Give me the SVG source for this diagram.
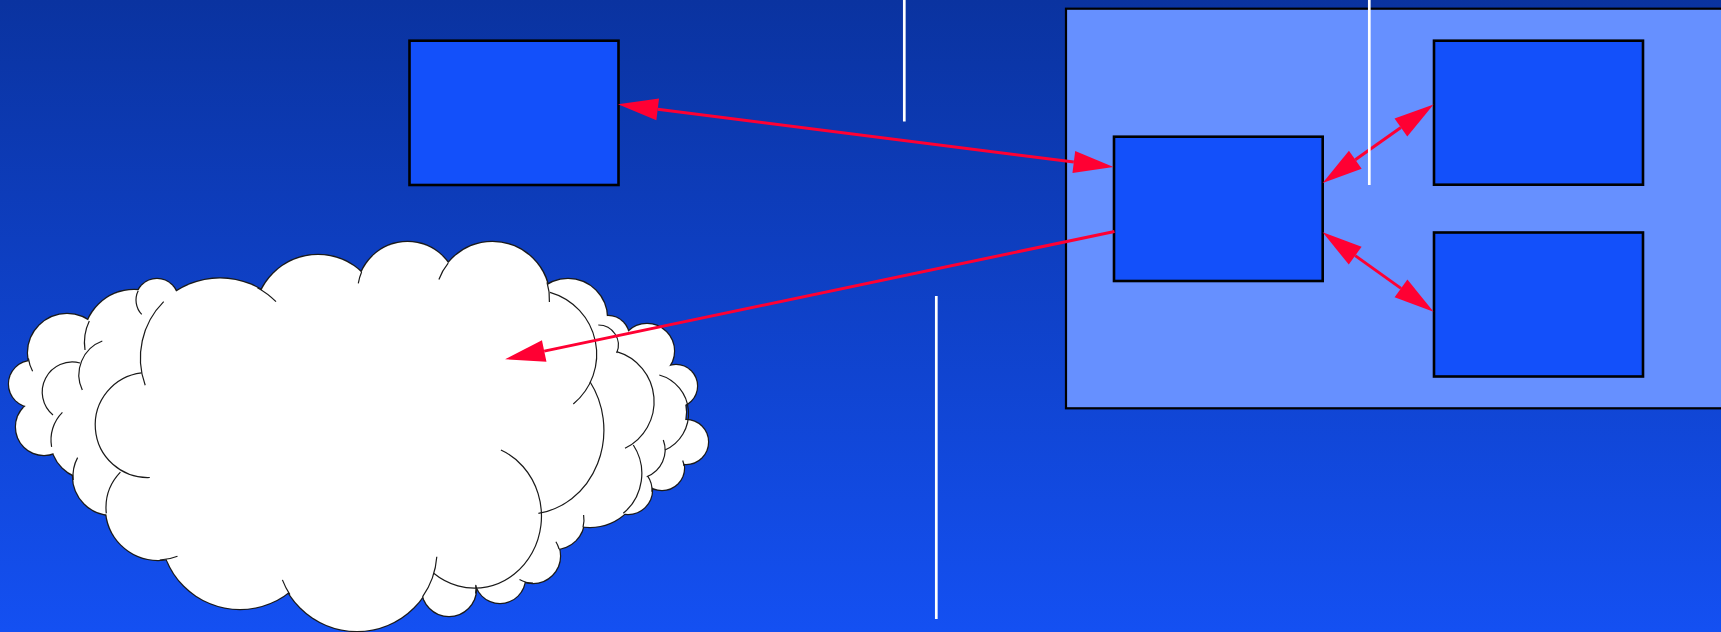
<svg xmlns="http://www.w3.org/2000/svg" xmlns:xlink="http://www.w3.org/1999/xlink" width="1721" height="632" viewBox="0 0 1721 632">
  <defs>
    <linearGradient id="bg" x1="0" y1="0" x2="0" y2="1">
      <stop offset="0" stop-color="#0A33A0"/>
      <stop offset="1" stop-color="#1450F2"/>
    </linearGradient>
    <marker id="head" markerUnits="userSpaceOnUse" markerWidth="42" markerHeight="24" viewBox="0 0 42 24" refX="0" refY="12" orient="auto-start-reverse" overflow="visible">
      <path d="M40,12 L0,1 L0,23 Z" fill="#FF0033"/>
    </marker>
    <g id="cloudShapes">
      <circle cx="32" cy="384" r="23"/>
      <circle cx="67" cy="353" r="39"/>
      <circle cx="44" cy="427" r="28"/>
      <circle cx="134" cy="340" r="50"/>
      <circle cx="157" cy="300" r="21"/>
      <circle cx="220" cy="358" r="79.6"/>
      <circle cx="318" cy="318" r="63"/>
      <circle cx="407.5" cy="292" r="50"/>
      <circle cx="492.5" cy="299" r="57"/>
      <circle cx="568" cy="318" r="39"/>
      <circle cx="608" cy="337" r="21"/>
      <circle cx="647" cy="351" r="27"/>
      <circle cx="676" cy="386" r="21"/>
      <circle cx="646" cy="412" r="40"/>
      <circle cx="686" cy="442" r="22"/>
      <circle cx="662" cy="468" r="22"/>
      <circle cx="628" cy="490" r="24"/>
      <circle cx="590" cy="475" r="52"/>
      <circle cx="555" cy="520" r="29"/>
      <circle cx="533" cy="556" r="27"/>
      <circle cx="500" cy="578" r="25"/>
      <circle cx="449" cy="589" r="27"/>
      <circle cx="357" cy="551" r="80"/>
      <circle cx="240" cy="530" r="79"/>
      <circle cx="158" cy="508" r="52"/>
      <circle cx="112" cy="476" r="39"/>
      <circle cx="90" cy="440" r="39"/>
      <circle cx="68" cy="389" r="30"/>
      <circle cx="115" cy="374" r="36"/>
      <circle cx="148" cy="425" r="52.5"/>
      <circle cx="532" cy="354" r="64.5"/>
      <circle cx="600" cy="400" r="52"/>
      <circle cx="636.5" cy="450" r="28.6"/>
      <ellipse cx="471" cy="513" rx="67" ry="72"/>
      <ellipse cx="530" cy="430" rx="76" ry="84"/>
      <ellipse cx="350" cy="430" rx="200" ry="130"/>
    </g>
  </defs>
  <style>
    .node { fill: #1350FA; stroke: #000000; stroke-width: 2.6; }
    .panel { fill: #6690FF; stroke: #000000; stroke-width: 2.2; }
    .conn { fill: none; stroke: #FF0033; stroke-width: 3; }
    .wline { stroke: #FFFFFF; stroke-width: 2.7; }
    .arc { fill: none; stroke: #1A1A1A; stroke-width: 1.2; }
  </style>

  <rect x="0" y="0" width="1721" height="632" fill="url(#bg)"/>

  <g id="panel">
    <rect class="panel" x="1066" y="8.7" width="670" height="399.6"/>
  </g>

  <g id="cloud">
    <use xlink:href="#cloudShapes" href="#cloudShapes" fill="#FFFFFF" stroke="#1A1A1A" stroke-width="2.4"/>
    <use xlink:href="#cloudShapes" href="#cloudShapes" fill="#FFFFFF" stroke="none"/>
    <g class="arcs">
      <path class="arc" d="M80,363 A30,30 0 0 0 53,415"/>
      <path class="arc" d="M102.3,341 A36,36 0 0 0 82.3,390"/>
      <path class="arc" d="M163.7,301.7 A79.6,79.6 0 0 0 145.2,385.2"/>
      <path class="arc" d="M257.4,287.7 A79.6,79.6 0 0 1 276,301.7"/>
      <path class="arc" d="M138.2,290.7 A21,21 0 0 0 141.7,314.4"/>
      <path class="arc" d="M89.3,321 A50,50 0 0 0 85,350"/>
      <path class="arc" d="M28.4,358.4 A39,39 0 0 0 32.6,371.3"/>
      <path class="arc" d="M141.6,372.9 A52.5,52.5 0 0 0 149.8,477.5"/>
      <path class="arc" d="M62.4,412.4 A39,39 0 0 0 51.6,446.8"/>
      <path class="arc" d="M77.6,457.6 A39,39 0 0 0 73.2,480"/>
      <path class="arc" d="M120.4,472.1 A52,52 0 0 0 106.3,513.4"/>
      <path class="arc" d="M159.8,560 A52,52 0 0 0 177.5,556.2"/>
      <path class="arc" d="M282.4,579.9 A80,80 0 0 0 289.9,594.6"/>
      <path class="arc" d="M436.8,556.7 A80,80 0 0 1 422.5,596.8"/>
      <path class="arc" d="M500.9,450 A67,72 0 1 1 433.7,573.3"/>
      <path class="arc" d="M590,381.7 A76,84 0 0 1 538.4,513.3"/>
      <path class="arc" d="M550,292.3 A64.5,64.5 0 0 1 573.3,404"/>
      <path class="arc" d="M616.7,351.7 A52,52 0 0 1 625,448.3"/>
      <path class="arc" d="M598.3,325 A20,20 0 0 1 616.7,353"/>
      <path class="arc" d="M659.3,375 A40,40 0 0 1 665,450"/>
      <path class="arc" d="M663.3,440 A28.6,28.6 0 0 1 646.7,476.7"/>
      <path class="arc" d="M633.3,445 A52,52 0 0 1 623.3,513.3"/>
      <path class="arc" d="M583.6,515 A29,29 0 0 1 583,527.5"/>
      <path class="arc" d="M555.9,541.7 A27,27 0 0 1 559.1,549"/>
      <path class="arc" d="M533,583 A27,27 0 0 1 519.5,579.4"/>
      <path class="arc" d="M448.2,263.1 A57,57 0 0 0 438.9,279.5"/>
      <path class="arc" d="M361.6,272.1 A50,50 0 0 0 358.3,283.3"/>
      <path class="arc" d="M547,282.3 A57,57 0 0 1 549.4,302"/>
      <path class="arc" d="M684,466 A22,22 0 0 0 682.7,460.5"/>
      <path class="arc" d="M651.9,491.7 A24,24 0 0 0 647.7,476.2"/>
      <path class="arc" d="M475.6,593.7 A27,27 0 0 0 475.7,585.2"/>
    </g>
  </g>

  <g id="node-left">
    <rect class="node" x="409.5" y="40.7" width="209" height="144.3"/>
  </g>
  <g id="node-center">
    <rect class="node" x="1114" y="136.7" width="208.7" height="144.3"/>
  </g>
  <g id="node-top-right">
    <rect class="node" x="1434" y="40.7" width="209" height="144"/>
  </g>
  <g id="node-bottom-right">
    <rect class="node" x="1434" y="232.5" width="209" height="144"/>
  </g>

  <g id="connectors">
    <path class="conn" d="M657.7,109.3 L1073.8,162" marker-start="url(#head)" marker-end="url(#head)"/>
    <path class="conn" d="M1114.5,231.5 L544.2,351.1" marker-end="url(#head)"/>
    <path class="conn" d="M1355.3,159.8 L1400.9,127.5" marker-start="url(#head)" marker-end="url(#head)"/>
    <path class="conn" d="M1355.2,255.6 L1401,288.4" marker-start="url(#head)" marker-end="url(#head)"/>
  </g>

  <g id="white-lines">
    <line class="wline" x1="904.3" y1="0" x2="904.3" y2="121.5"/>
    <line class="wline" x1="1369.3" y1="0" x2="1369.3" y2="185"/>
    <line class="wline" x1="936.3" y1="296" x2="936.3" y2="619"/>
  </g>
</svg>
